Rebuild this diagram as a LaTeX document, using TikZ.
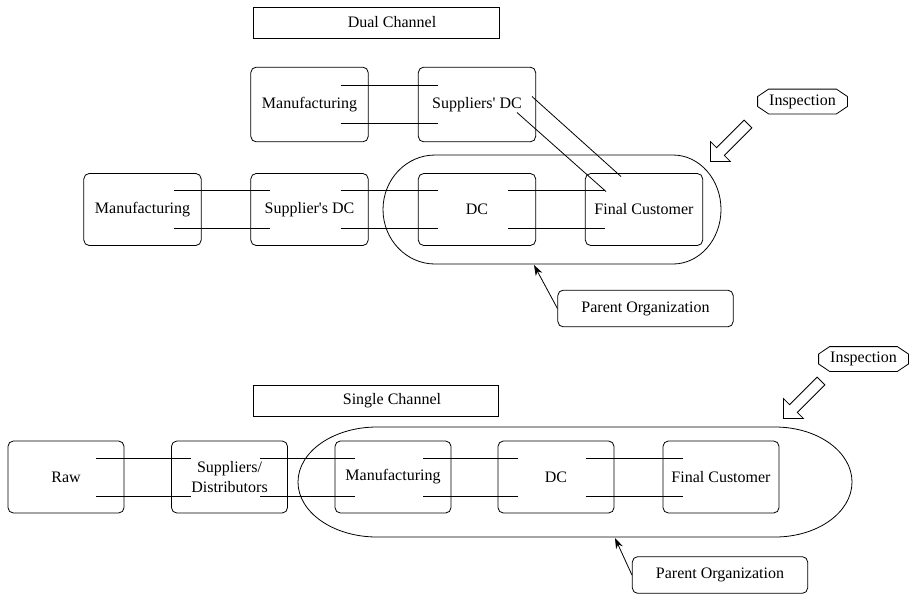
\documentclass[tikz,border=0pt]{standalone}
\usepackage{fontspec}
\setmainfont{Liberation Serif}
\usetikzlibrary{arrows.meta, calc}

% a pair of parallel rules joining two stages
\newcommand{\pipe}[2]{%
  \draw ($(#1.east)+(-28,-19)$) -- ($(#2.west)+(20,-19)$);
  \draw ($(#1.east)+(-28,19)$) -- ($(#2.west)+(20,19)$);}
% octagon drawn round a named node
\newcommand{\octo}[1]{%
  \draw ($(#1.west)+(0,-5)$) -- ($(#1.north west)+(11,0)$)
     -- ($(#1.north east)+(-11,0)$) -- ($(#1.east)+(0,-5)$)
     -- ($(#1.east)+(0,5)$) -- ($(#1.south east)+(-11,0)$)
     -- ($(#1.south west)+(11,0)$) -- ($(#1.west)+(0,5)$) -- cycle;}

\tikzset{
  %% stages of the chain
  stage/.style   = {draw, rounded corners=4pt, align=center,
                    minimum width=88pt, minimum height=54pt, inner sep=2pt},
  titleBox/.style = {draw, rectangle, minimum width=184pt, minimum height=23.25pt},
  orgBox/.style  = {draw, rounded corners=4pt, minimum width=131.5pt,
                    minimum height=27.5pt},
  inspect/.style = {inner sep=0pt, minimum width=66.75pt, minimum height=18pt},
  %% pointers
  ptr/.style     = {-{Stealth[length=8pt, width=5.5pt]}},
  bigarrow/.pic  = {\draw (0,-5.5) -- (39,-5.5) -- (39,-14) -- (53,0)
                    -- (39,14) -- (39,5.5) -- (0,5.5) -- cycle;},
}

\begin{document}
\begin{tikzpicture}[x=0.75pt, y=-0.75pt, line width=0.6pt,
                    font=\fontsize{12}{14.5}\selectfont]
\useasboundingbox (0,0) rectangle (909,594);

%% ---------------- dual channel ----------------
\node[titleBox] (dual) at (376.5,22.5) {};
\node (dualText) at (392,22.5) {Dual Channel};

\node[stage, minimum height=56pt] (mfgA) at (309.5,104.5) {Manufacturing};
\node[stage, minimum height=56pt] (supA) at (477,104.5) {Suppliers\textquotesingle{} DC};

\node[stage] (mfgB) at (142.5,209.5) {Manufacturing};
\node[stage] (supB) at (309.5,209.5) {Supplier\textquotesingle s DC};
\node[stage] (dcB)  at (477,209.5) {DC};
\node[stage] (fcB)  at (644,209.5) {Final Customer};

\pipe{mfgA}{supA}
\pipe{mfgB}{supB}
\pipe{supB}{dcB}
\pipe{dcB}{fcB}
\draw ($(supA.center)+(55,-8)$) -- ($(fcB.center)+(-23,-33)$);
\draw ($(supA.center)+(40,8)$) -- ($(fcB.center)+(-38,-18)$);

% parent organisation ring
\draw (435,155) -- (673,155) arc[start angle=-90, end angle=90, x radius=48, y radius=54.5]
      -- (435,264) arc[start angle=90, end angle=270, x radius=52, y radius=54.5] -- cycle;
\coordinate (ringA) at (534,265);
\node[orgBox] (orgA) at (645.5,308.5) {Parent Organization};
\draw[ptr] (orgA.west) -- (ringA);

\node[inspect] (inspA) at (802.5,101.5) {Inspection};
\octo{inspA}
\pic[rotate=-135] at (748,124) {bigarrow};

%% ---------------- single channel ----------------
\node[titleBox] (single) at (376,400.5) {};
\node (singleText) at (392,400.5) {Single Channel};

\node[stage, minimum width=87pt] (rawC) at (66,477) {Raw};
\node[stage, minimum width=87pt] (supC) at (229.5,477) {Suppliers/\\Distributors};
\node[stage, minimum width=87pt] (mfgC) at (393,477) {Manufacturing};
\node[stage, minimum width=87pt] (dcC)  at (556,477) {DC};
\node[stage, minimum width=87pt] (fcC)  at (721,477) {Final Customer};

\pipe{rawC}{supC}
\pipe{supC}{mfgC}
\pipe{mfgC}{dcC}
\pipe{dcC}{fcC}

\draw (377,427) -- (775,427) arc[start angle=-90, end angle=90, x radius=77, y radius=55]
      -- (377,537) arc[start angle=90, end angle=270, x radius=79, y radius=55] -- cycle;
\coordinate (ringC) at (615,538);
\node[orgBox] (orgC) at (720,575) {Parent Organization};
\draw[ptr] (orgC.west) -- (ringC);

\node[inspect] (inspC) at (863.5,359) {Inspection};
\octo{inspC}
\pic[rotate=-135] at (821,381) {bigarrow};

\end{tikzpicture}
\end{document}
